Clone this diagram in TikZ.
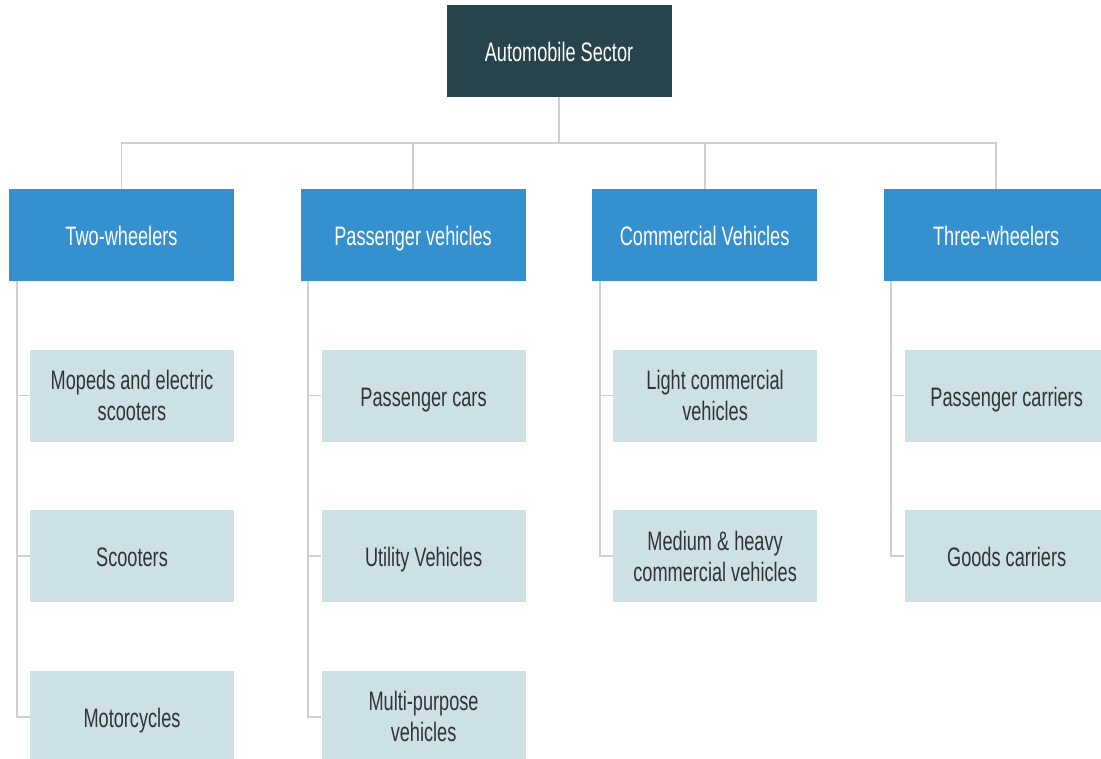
\documentclass[tikz,border=0pt]{standalone}
\usepackage{fontspec}
\setmainfont{Liberation Sans}[FakeStretch=0.68]
\usepackage{tikz}
\usetikzlibrary{positioning}
\definecolor{darkteal}{HTML}{27444C}
\definecolor{catblue}{HTML}{3590D0}
\definecolor{paleblue}{HTML}{CDE0E6}
\definecolor{linegray}{HTML}{CFCFCF}
\definecolor{textgray}{HTML}{333333}

\begin{document}
\begin{tikzpicture}[
        node distance=1.7cm and 1.65cm,
        every node/.style={align=center, inner sep=0pt, font=\fontsize{19}{22}\selectfont},
        oneline/.style={text height=18pt, text depth=3pt},
        root/.style={rectangle, oneline, fill=darkteal, text=white, minimum width=5.625cm, minimum height=2.3cm},
        category/.style={rectangle, oneline, fill=catblue, text=white, minimum width=5.625cm, minimum height=2.3cm},
        item/.style={rectangle, fill=paleblue, text=textgray, minimum width=5.1cm, minimum height=2.3cm},
        link/.style={draw=linegray, line width=1.3pt}
    ]
    \useasboundingbox (0,0) rectangle (27.525,-18.975);

    % Top of the tree
    \node[root] (sector) at (13.975,-1.275) {Automobile Sector};

    % Categories
    \node[category] (two) at (3.0375,-5.875) {Two-wheelers};
    \node[category, right=of two] (passenger) {Passenger vehicles};
    \node[category, right=of passenger] (commercial) {Commercial Vehicles};
    \node[category, right=of commercial] (three) {Three-wheelers};

    % Two-wheelers
    \node[item, below=of two.south east, anchor=north east] (mopeds) {Mopeds and electric\\scooters};
    \node[item, oneline, below=of mopeds] (scooters) {Scooters};
    \node[item, oneline, below=of scooters] (motorcycles) {Motorcycles};

    % Passenger vehicles
    \node[item, oneline, below=of passenger.south east, anchor=north east] (cars) {Passenger cars};
    \node[item, oneline, below=of cars] (utility) {Utility Vehicles};
    \node[item, below=of utility] (multipurpose) {Multi-purpose\\vehicles};

    % Commercial vehicles
    \node[item, below=of commercial.south east, anchor=north east] (light) {Light commercial\\vehicles};
    \node[item, below=of light] (heavy) {Medium \& heavy\\commercial vehicles};

    % Three-wheelers
    \node[item, oneline, below=of three.south east, anchor=north east] (carriers) {Passenger carriers};
    \node[item, oneline, below=of carriers] (goods) {Goods carriers};

    % Tree lines
    \draw[link] (sector.south) -- ++(0,-1.15) -| (two.north);
    \draw[link] (sector.south) -- ++(0,-1.15) -| (passenger.north);
    \draw[link] (sector.south) -- ++(0,-1.15) -| (commercial.north);
    \draw[link] (sector.south) -- ++(0,-1.15) -| (three.north);

    \draw[link] ([xshift=0.2cm]two.south west) |- (mopeds.west);
    \draw[link] ([xshift=0.2cm]two.south west) |- (scooters.west);
    \draw[link] ([xshift=0.2cm]two.south west) |- (motorcycles.west);
    \draw[link] ([xshift=0.2cm]passenger.south west) |- (cars.west);
    \draw[link] ([xshift=0.2cm]passenger.south west) |- (utility.west);
    \draw[link] ([xshift=0.2cm]passenger.south west) |- (multipurpose.west);
    \draw[link] ([xshift=0.2cm]commercial.south west) |- (light.west);
    \draw[link] ([xshift=0.2cm]commercial.south west) |- (heavy.west);
    \draw[link] ([xshift=0.2cm]three.south west) |- (carriers.west);
    \draw[link] ([xshift=0.2cm]three.south west) |- (goods.west);

\end{tikzpicture}
\end{document}
